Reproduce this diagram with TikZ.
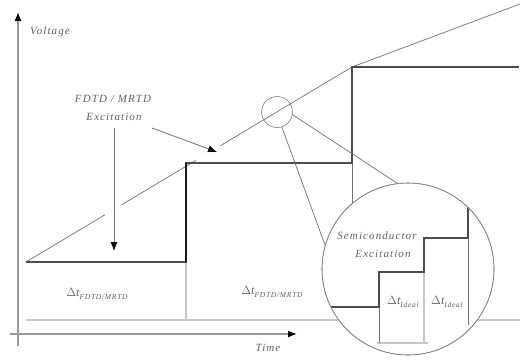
\documentclass[tikz,border=0pt]{standalone}
\usepackage{fontspec}
\setmainfont{Liberation Serif}
\newfontfamily\lblfont[LetterSpace=10]{Liberation Serif}
\usetikzlibrary{arrows.meta,calc}
\tikzset{
  lbl/.style={font=\lblfont\itshape\fontsize{11}{13}\selectfont, text=black!62, inner sep=0pt},
  thinln/.style={draw=black!55, line width=0.7pt},
  stepln/.style={draw=black!70, line width=2.6pt, line join=miter},
  sepln/.style={draw=black!22, line width=1.8pt},
  axisln/.style={draw=black!40, line width=1.3pt, -{Latex[length=9pt,width=7pt,color=black]}},
  ptr/.style={draw=black!55, line width=0.8pt, -{Latex[length=9pt,width=7pt,color=black]}},
  ring/.style={circle, draw=black!50, line width=0.6pt, inner sep=0pt}
}
\newcommand{\dtlab}[1]{{\fontsize{12}{13}\selectfont$\Delta$t}\raisebox{-3pt}{\fontsize{7.5}{8}\selectfont #1}}
\begin{document}
\begin{tikzpicture}[x=1pt,y=-1pt]
\fill[white] (0,0) rectangle (520,360);
\useasboundingbox (0,0) rectangle (520,360);

% coordinates
\coordinate (o) at (18,346);
\coordinate (ytop) at (18,12);
\coordinate (xl) at (10,334);
\coordinate (xr) at (297,334);
\coordinate (bl) at (26,320);
\coordinate (br) at (520,320);
\coordinate (s0) at (26,262);
\coordinate (s1) at (186,262);
\coordinate (s2) at (186,163);
\coordinate (s3) at (352,163);
\coordinate (s4) at (352,67);
\coordinate (s5) at (519,67);
\coordinate (sepb) at (186,320);
\coordinate (s3b) at (352,320);
\coordinate (r0) at (26,262);
\coordinate (r1) at (352,67);
\coordinate (r2) at (520,4);

% baseline and separators
\draw[sepln] (bl) -- (br);
\draw[sepln] (s1) -- (sepb);
\draw[thinln] (s3) -- (s3b);

% axes
\draw[axisln] (o) -- (ytop);
\draw[axisln] (xl) -- (xr);

% ramp (with gaps where pointers cross)
\draw[thinln] (r0) -- ($(r0)!0.2423!(r1)$);
\draw[thinln] ($(r0)!0.2945!(r1)$) -- ($(r0)!0.5215!(r1)$);
\draw[thinln] ($(r0)!0.5951!(r1)$) -- (r1) -- (r2);

% step
\draw[stepln] (s0) -- (s1) -- (s2) -- (s3) -- (s4) -- (s5);
\draw[draw=black!90, line width=2.2pt] (s1) -- (s2);

% labels
\node[lbl] (volt) at (50,32) {Voltage};
\node[lbl] (time) at (268,348) {Time};
\node[lbl] (fd1) at (113,99) {FDTD / MRTD};
\node[lbl] (fd2) at (114,117) {Excitation};
\coordinate (p1s) at (152,128);
\coordinate (p1e) at (217,152);
\coordinate (p2s) at (114,128);
\coordinate (p2e) at (114,251);
\draw[ptr] (p1s) -- (p1e);
\draw[ptr] (p2s) -- (p2e);

\node[lbl] (dt1) at (97,294) {\dtlab{FDTD/MRTD}};
\node[lbl] (dt2) at (272,292) {\dtlab{FDTD/MRTD}};

% small circle
\node[ring, minimum size=31pt] (small) at (277,112) {};

% big circle
\node[ring, fill=white, minimum size=172pt] (big) at (408,269) {};
\begin{scope}
\clip (408,269) circle (85.5pt);
\coordinate (z0) at (325,307);
\coordinate (z1) at (379,307);
\coordinate (z2) at (379,272);
\coordinate (z3) at (424,272);
\coordinate (z4) at (424,238);
\coordinate (z5) at (468,238);
\coordinate (z6) at (468,200);
\coordinate (z1b) at (379,343);
\coordinate (z3b) at (424,343);
\coordinate (z5b) at (468,325);
\coordinate (zbl) at (377,343);
\coordinate (zbr) at (428,343);
\draw[sepln] (zbl) -- (zbr);
\draw[thinln] (z1) -- (z1b);
\draw[sepln] (z3) -- (z3b);
\draw[thinln] (z5) -- (z5b);
\draw[stepln] (z0) -- (z1) -- (z2) -- (z3) -- (z4) -- (z5) -- (z6);
\end{scope}
\node[ring, minimum size=172pt] (bigring) at (408,269) {};
\node[lbl] (sc1) at (377,236) {Semiconductor};
\node[lbl] (sc2) at (383,254) {Excitation};
\node[lbl] (id1) at (403,302) {\dtlab{Ideal}};
\node[lbl] (id2) at (447,302) {\dtlab{Ideal}};

% zoom connectors
\draw[thinln] (small.-72) -- (big.164);
\draw[thinln] (small.-10) -- (big.97);
\end{tikzpicture}
\end{document}
